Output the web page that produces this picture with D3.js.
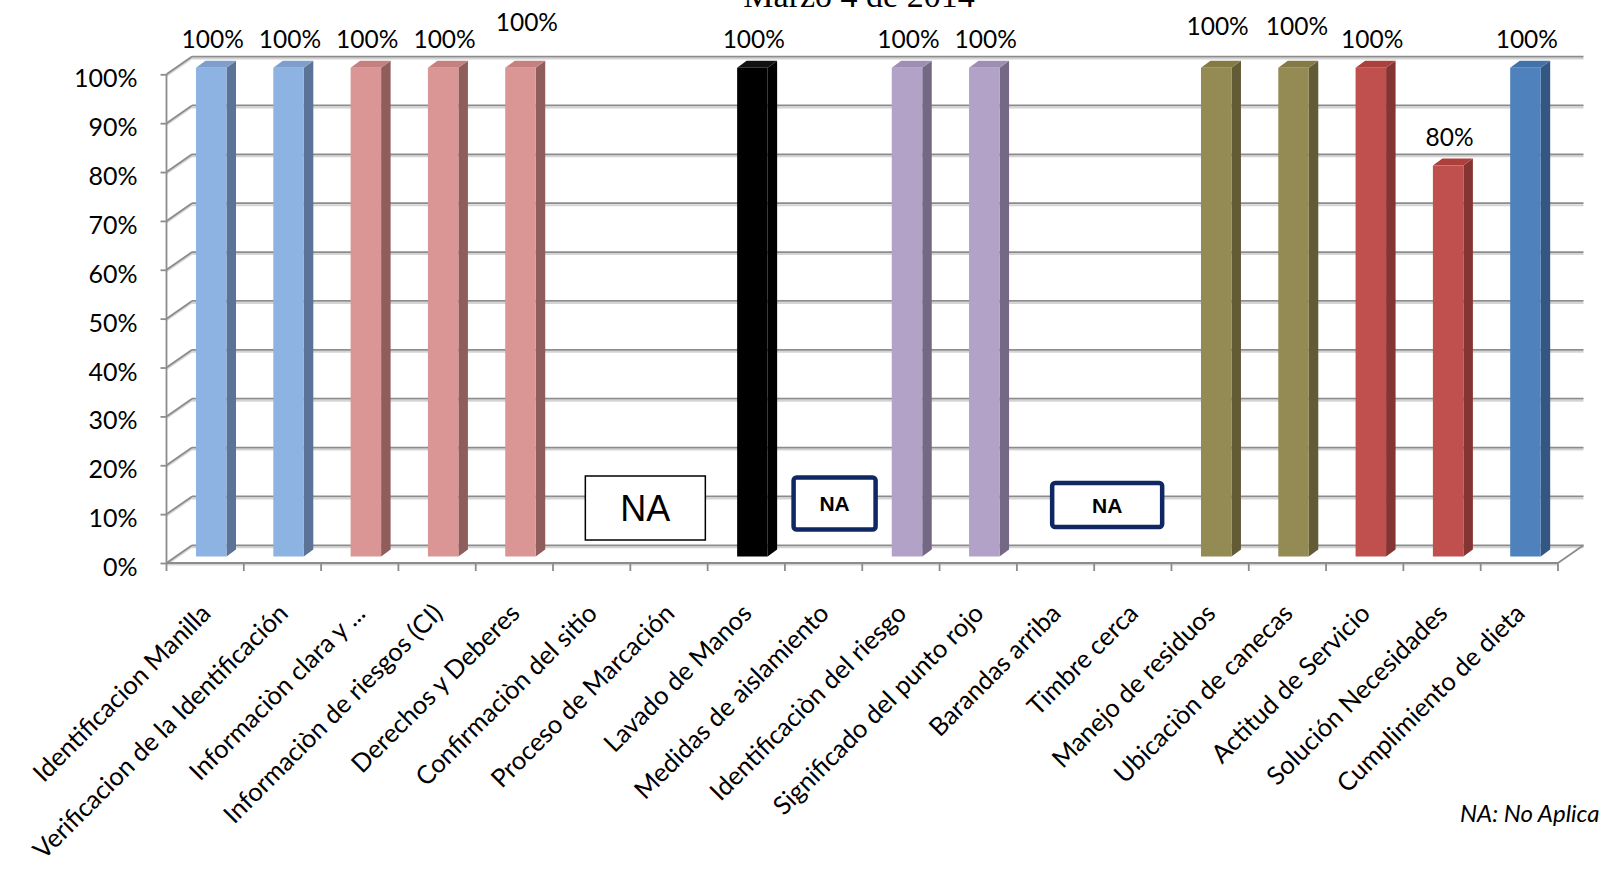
<!DOCTYPE html>
<html>
<head>
<meta charset="utf-8">
<script src="https://cdn.jsdelivr.net/npm/d3@7"></script>
<style>
  html, body { margin: 0; padding: 0; background: #ffffff; overflow: hidden; }
  svg { display: block; }
</style>
</head>
<body>
<svg id="chart" width="1600" height="871"></svg>
<script>
// ---------------- DATA ----------------
const titleText = "Marzo 4 de  2014";
const categories = [
  "Identificacion Manilla",
  "Verificacion de la Identificación",
  "Informaciòn clara y ...",
  "Informaciòn de riesgos (CI)",
  "Derechos y Deberes",
  "Confirmaciòn del sitio",
  "Proceso de Marcación",
  "Lavado de Manos",
  "Medidas de aislamiento",
  "Identificaciòn del riesgo",
  "Significado del punto rojo",
  "Barandas arriba",
  "Timbre cerca",
  "Manejo de residuos",
  "Ubicaciòn de canecas",
  "Actitud de Servicio",
  "Solución Necesidades",
  "Cumplimiento  de dieta"
];
// null = NA (No Aplica)
const values = [1, 1, 1, 1, 1, null, null, 1, null, 1, 1, null, null, 1, 1, 1, 0.8, 1];
const yTickValues = [0, 0.1, 0.2, 0.3, 0.4, 0.5, 0.6, 0.7, 0.8, 0.9, 1.0];
const naText = "NA";
const noteText = "NA: No Aplica";

// ---------------- STYLE / LAYOUT ----------------
const palette = [
  ["#8DB3E2", "#5A7396", "#7E9FCB"],
  ["#8DB3E2", "#5A7396", "#7E9FCB"],
  ["#D99694", "#8E5D5C", "#C4817F"],
  ["#D99694", "#8E5D5C", "#C4817F"],
  ["#D99694", "#8E5D5C", "#C4817F"],
  null, null,
  ["#000000", "#000000", "#111111"],
  null,
  ["#B3A2C7", "#756884", "#9F8EB4"],
  ["#B3A2C7", "#756884", "#9F8EB4"],
  null, null,
  ["#948A54", "#625B36", "#847A46"],
  ["#948A54", "#625B36", "#847A46"],
  ["#C0504D", "#843432", "#AC403D"],
  ["#C0504D", "#843432", "#AC403D"],
  ["#4F81BD", "#345782", "#4371AA"]
];
// value-label nudges (x offset, y baseline override)
const labelNudge = {4: {dx: 5, y: 31}, 13: {dx: 0, y: 35}, 14: {dx: 2, y: 35}};
// NA box styles per NA group (in order of appearance)
const naBoxStyle = [
  {dx: 15, cy: 508, w: 120, h: 64, stroke: "#000000", sw: 1.5, rx: 0, font: "36px 'Liberation Sans'", weight: 400, cap: 26},
  {dx: 11, cy: 503.5, w: 82, h: 52, stroke: "#0F2763", sw: 4.5, rx: 3, font: "21px 'Liberation Sans'", weight: 700, cap: 15},
  {dx: 13, cy: 505, w: 110, h: 44, stroke: "#0F2763", sw: 4.5, rx: 3, font: "21px 'Liberation Sans'", weight: 700, cap: 15}
];

const depthDx = 25.5, depthDy = -17.7;   // back wall offset
const barFrontDx = 29.5, barW = 30.5, barOffY = -6.5, barDepthX = 9.5, barDepthY = -7;

const svg = d3.select("#chart");

const x = d3.scaleBand().domain(categories.map((d, i) => i)).range([166.5, 1558]).paddingInner(0).paddingOuter(0);
const y = d3.scaleLinear().domain([0, 1]).range([563, 74.3]);

const gridColor = "#8C8C8C";
const shadowColor = "#D4D4D4";

// -------- back wall gridlines + side wall diagonals --------
const grid = svg.append("g");
yTickValues.forEach(t => {
  const yf = y(t), yb = y(t) + depthDy;
  grid.append("line").attr("x1", x.range()[0] + depthDx).attr("x2", x.range()[1] + depthDx)
    .attr("y1", yb + 2).attr("y2", yb + 2).attr("stroke", shadowColor).attr("stroke-width", 2);
  grid.append("line").attr("x1", x.range()[0] + depthDx).attr("x2", x.range()[1] + depthDx)
    .attr("y1", yb).attr("y2", yb).attr("stroke", gridColor).attr("stroke-width", 1.8);
  grid.append("path").attr("d", `M${x.range()[0]},${yf + 1.5}L${x.range()[0] + depthDx},${yb + 1.5}`)
    .attr("stroke", shadowColor).attr("stroke-width", 2).attr("fill", "none");
  grid.append("path").attr("d", `M${x.range()[0]},${yf}L${x.range()[0] + depthDx},${yb}`)
    .attr("stroke", gridColor).attr("stroke-width", 1.8).attr("fill", "none");
});
grid.append("path").attr("d", `M${x.range()[1]},${y(0)}L${x.range()[1] + depthDx},${y(0) + depthDy}`)
  .attr("stroke", gridColor).attr("stroke-width", 1.8).attr("fill", "none");

// -------- Y axis --------
const yAxisG = svg.append("g").attr("transform", `translate(${x.range()[0]},0)`);
yAxisG.append("line").attr("x1", 0).attr("x2", 0).attr("y1", y(1)).attr("y2", y(0))
  .attr("stroke", gridColor).attr("stroke-width", 1.8);
const yAxis = d3.axisLeft(y).tickValues(yTickValues).tickFormat(d3.format(".0%")).tickSize(6).tickPadding(0);
yAxisG.call(yAxis);
yAxisG.select(".domain").remove();
yAxisG.selectAll(".tick line").attr("stroke", gridColor).attr("stroke-width", 1.8);
yAxisG.selectAll(".tick text")
  .attr("x", -29).attr("dy", null).attr("y", 12.5)
  .attr("fill", "#000").style("font", "25px Lato").attr("text-anchor", "end");

// -------- bars --------
const barsG = svg.append("g");
categories.forEach((c, i) => {
  const v = values[i];
  if (v === null) return;
  const col = palette[i];
  const x0 = x(i) + barFrontDx, x1 = x0 + barW;
  const yt = y(v) + barOffY, yb = y(0) + barOffY;
  const g = barsG.append("g");
  g.append("path").attr("d",
    `M${x1},${yt}L${x1 + barDepthX},${yt + barDepthY}L${x1 + barDepthX},${yb + barDepthY}L${x1},${yb}Z`)
    .attr("fill", col[1]);
  g.append("path").attr("d",
    `M${x0},${yt}L${x0 + barDepthX},${yt + barDepthY}L${x1 + barDepthX},${yt + barDepthY}L${x1},${yt}Z`)
    .attr("fill", col[2]);
  g.append("rect").attr("x", x0).attr("y", yt).attr("width", barW).attr("height", yb - yt)
    .attr("fill", col[0]);
});

// -------- value labels --------
const labG = svg.append("g");
categories.forEach((c, i) => {
  const v = values[i];
  if (v === null) return;
  const nud = labelNudge[i] || {dx: 0};
  const lx = x(i) + x.bandwidth() / 2 + 7.5 + nud.dx;
  const ly = nud.y !== undefined ? nud.y : y(v) + barOffY - 20;
  labG.append("text").attr("x", lx).attr("y", ly).attr("text-anchor", "middle")
    .style("font", "24.5px Lato").attr("fill", "#000").text(d3.format(".0%")(v));
});

// -------- X axis (front floor edge) --------
const xAxisG = svg.append("g");
xAxisG.append("line").attr("x1", x.range()[0]).attr("x2", x.range()[1]).attr("y1", y(0) + 1.5).attr("y2", y(0) + 1.5)
  .attr("stroke", shadowColor).attr("stroke-width", 2);
xAxisG.append("line").attr("x1", x.range()[0]).attr("x2", x.range()[1]).attr("y1", y(0)).attr("y2", y(0))
  .attr("stroke", gridColor).attr("stroke-width", 1.8);
const boundaries = categories.map((c, i) => x(i)).concat([x.range()[1]]);
boundaries.forEach(bx => {
  xAxisG.append("line").attr("x1", bx).attr("x2", bx).attr("y1", y(0)).attr("y2", y(0) + 8)
    .attr("stroke", gridColor).attr("stroke-width", 1.8);
});
categories.forEach((c, i) => {
  const cx = x(i) + x.bandwidth() / 2 + 7;
  const cy = 615;
  xAxisG.append("text").attr("transform", `translate(${cx},${cy}) rotate(-45)`)
    .attr("text-anchor", "end").style("font", "25.5px Lato").attr("fill", "#000").text(c);
});

// -------- NA boxes --------
const groups = [];
values.forEach((v, i) => {
  if (v !== null) return;
  const last = groups[groups.length - 1];
  if (last && last[last.length - 1] === i - 1) last.push(i); else groups.push([i]);
});
const naG = svg.append("g");
groups.forEach((grp, gi) => {
  const st = naBoxStyle[gi];
  const gc = d3.mean(grp, i => x(i) + x.bandwidth() / 2) + st.dx;
  naG.append("rect").attr("x", gc - st.w / 2).attr("y", st.cy - st.h / 2).attr("width", st.w).attr("height", st.h)
    .attr("rx", st.rx).attr("fill", "#fff").attr("stroke", st.stroke).attr("stroke-width", st.sw);
  naG.append("text").attr("x", gc).attr("y", st.cy + st.cap / 2).attr("text-anchor", "middle")
    .style("font", st.font).style("font-weight", st.weight).attr("fill", "#000").text(naText);
});

// -------- title & note --------
svg.append("text").attr("x", 859).attr("y", 7).attr("text-anchor", "middle")
  .style("font", "34px 'Liberation Serif'").attr("fill", "#000").text(titleText);
svg.append("text").attr("x", 1460).attr("y", 822)
  .style("font", "italic 24px Lato").attr("fill", "#000").text(noteText);
</script>
</body>
</html>
